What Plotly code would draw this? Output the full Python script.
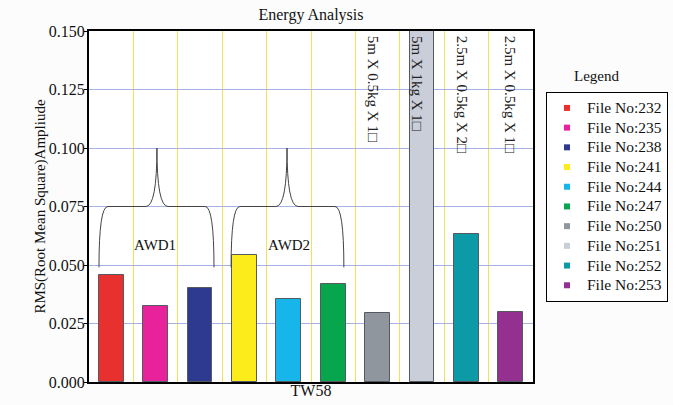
import plotly.graph_objects as go

files = ["File No:232", "File No:235", "File No:238", "File No:241", "File No:244",
         "File No:247", "File No:250", "File No:251", "File No:252", "File No:253"]
values = [0.0459, 0.0326, 0.0402, 0.0541, 0.0353, 0.0417, 0.0294, 0.150, 0.0633, 0.0299]
colors = ["#e8302e", "#e8229a", "#2e3a90", "#fcec1c", "#16b6ea", "#08a64c",
          "#8f969d", "#c9ced8", "#0c9aa6", "#933090"]
positions = list(range(len(files)))

group_labels = ["AWD1", "AWD2"]
group_label_x = [0.99, 4.0]
group_spans = [(-0.275, 1.03, 2.315), (2.70, 3.96, 5.24)]

notes = ["5m X 0.5kg X 1□", "5m X 1kg X 1□", "2.5m X 0.5kg X 2□", "2.5m X 0.5kg X 1□"]
note_x = [5.9, 6.9, 7.92, 9.0]

yticks = [0.0, 0.025, 0.05, 0.075, 0.1, 0.125, 0.15]

FONT = "Liberation Serif, Times New Roman, serif"

fig = go.Figure()
for i, name in enumerate(files):
    fig.add_trace(go.Bar(x=[positions[i]], y=[values[i]], width=0.56, name=name,
                         marker=dict(color=colors[i], line=dict(color="#555a60", width=1)),
                         showlegend=False))
for i, name in enumerate(files):
    fig.add_trace(go.Scatter(x=[None], y=[None], mode="markers",
                             name=f'<span style="font-size:15.5px">{name}</span>',
                             marker=dict(symbol="square", size=6, color=colors[i])))

shapes = []
for (x0, xc, x1) in group_spans:
    path = (f"M {x0},0.049 Q {x0},0.075 {x0+0.2},0.075 L {xc-0.25},0.075 "
            f"Q {xc},0.075 {xc},0.100 Q {xc},0.075 {xc+0.25},0.075 "
            f"L {x1-0.2},0.075 Q {x1},0.075 {x1},0.049")
    shapes.append(dict(type="path", path=path, xref="x", yref="y",
                       line=dict(color="#444444", width=1)))

annotations = []
for lab, lx in zip(group_labels, group_label_x):
    annotations.append(dict(x=lx, y=0.0587, xref="x", yref="y", text=lab, showarrow=False,
                            font=dict(family=FONT, size=15, color="#111")))
for t, tx in zip(notes, note_x):
    annotations.append(dict(x=tx, y=0.150, xref="x", yref="y", text=t, showarrow=False,
                            textangle=90, yanchor="top", yshift=-3,
                            font=dict(family=FONT, size=15, color="#222")))
annotations.append(dict(x=1.088, y=0.872, xref="paper", yref="paper", text="Legend",
                        showarrow=False, xanchor="left", yanchor="middle",
                        font=dict(family=FONT, size=15, color="#111")))

fig.update_layout(
    width=673, height=405,
    margin=dict(l=89, r=140, t=31, b=23, autoexpand=False),
    paper_bgcolor="#fcfcfc", plot_bgcolor="white",
    title=dict(text="Energy Analysis", x=0.4621, xanchor="center", y=0.9654, yanchor="middle",
               font=dict(family=FONT, size=16, color="#111")),
    font=dict(family=FONT, size=15, color="#111"),
    xaxis=dict(range=[-0.5, 9.5], tick0=-0.5, dtick=1, showticklabels=False, ticks="",
               showgrid=True, gridcolor="#f2e256", gridwidth=1, zeroline=False,
               showline=True, linecolor="black", linewidth=2, mirror=True, automargin=False,
               title=dict(text="TW58", standoff=2, font=dict(family=FONT, size=16))),
    yaxis=dict(range=[0, 0.150], tickvals=yticks, tickformat=".3f", ticks="outside",
               ticklen=3, tickcolor="black", showgrid=True, gridcolor="#a6b2e6", gridwidth=1,
               zeroline=False, showline=True, linecolor="black", linewidth=2, mirror=True,
               automargin=False, tickfont=dict(family=FONT, size=16), ticklabelstandoff=-4,
               title=dict(text="RMS(Root Mean Square)Ampliude", standoff=0,
                          font=dict(family=FONT, size=15))),
    legend=dict(x=1.304, y=0.826, xanchor="right", yanchor="top", bgcolor="white",
                bordercolor="black", borderwidth=1, font=dict(family=FONT, size=12.85),
                itemwidth=30, tracegroupgap=0),
    shapes=shapes, annotations=annotations,
    bargap=0,
)

fig.write_html(
    "out.html",
    config={"displayModeBar": False},
    post_script="document.body.style.margin='0';document.documentElement.style.overflow='hidden';",
)
